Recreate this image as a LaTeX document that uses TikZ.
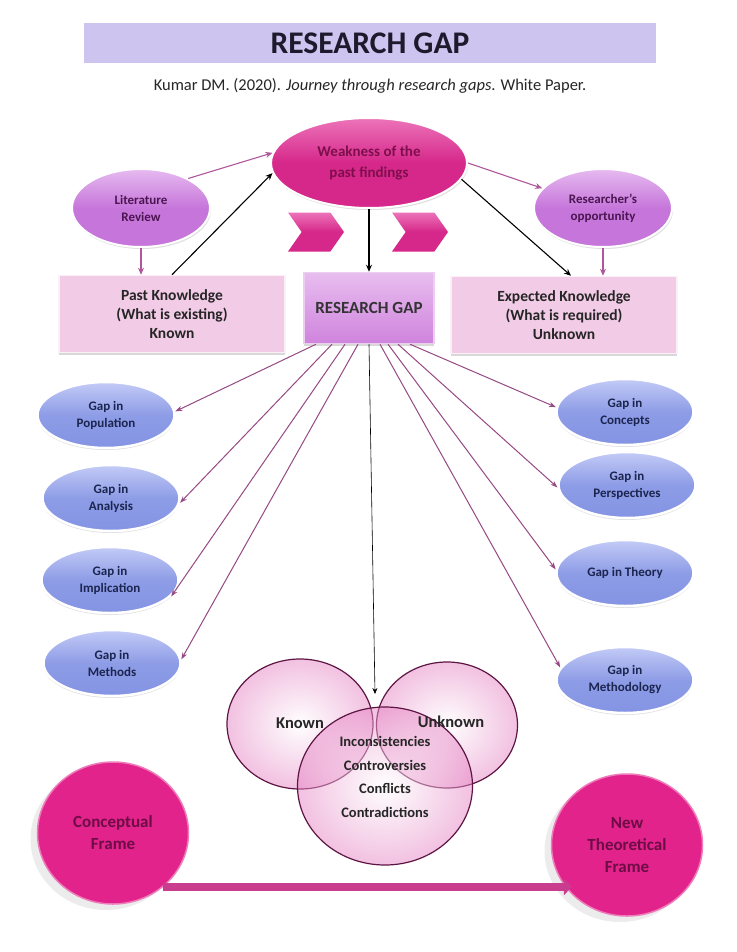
\documentclass[tikz,border=0pt]{standalone}
\usepackage{fontspec}
\setmainfont{Carlito}
\usetikzlibrary{arrows.meta,shapes.geometric,shapes.symbols,shadows}
\definecolor{barlilac}{HTML}{CDC5EF}
\definecolor{titleink}{HTML}{1E1A2E}
\definecolor{weakpink}{HTML}{D6278A}
\definecolor{weaklight}{HTML}{EC74B9}
\definecolor{weakink}{HTML}{7E0F4C}
\definecolor{orchid}{HTML}{C676DA}
\definecolor{orchidlight}{HTML}{E6BAF0}
\definecolor{orchidink}{HTML}{4B1552}
\definecolor{boxpink}{HTML}{F2CBE6}
\definecolor{gapbox}{HTML}{CF84DD}
\definecolor{gapboxlight}{HTML}{E8BDEF}
\definecolor{bluegap}{HTML}{8494E3}
\definecolor{bluelight}{HTML}{C3CBF6}
\definecolor{blueink}{HTML}{1B2550}
\definecolor{linkpink}{HTML}{B0569A}
\definecolor{vennpink}{HTML}{E684C4}
\definecolor{vennrim}{HTML}{5E1543}
\definecolor{framepink}{HTML}{E2238C}
\definecolor{frameink}{HTML}{6E0C45}
\definecolor{barpink}{HTML}{C93C8E}

\tikzset{
		titlebar/.style={fill=barlilac, minimum width=572pt, minimum height=40pt, text=titleink, font=\bfseries\fontsize{31.5}{33}\selectfont},
		citation/.style={text=black!85, font=\fontsize{16.5}{18}\selectfont},
		weakoval/.style={ellipse, top color=weaklight, bottom color=weakpink, middle color=weakpink, draw=white, line width=2pt, minimum width=196pt, minimum height=90pt, align=center, text=weakink, font=\bfseries\fontsize{15}{21}\selectfont, drop shadow={opacity=.25, shadow xshift=1pt, shadow yshift=-2pt}},
		sideoval/.style={ellipse, top color=orchidlight, bottom color=orchid, middle color=orchid, draw=white, line width=2pt, minimum width=138pt, minimum height=78pt, align=center, text=orchidink, font=\bfseries\fontsize{13}{17}\selectfont, drop shadow={opacity=.25, shadow xshift=1pt, shadow yshift=-2pt}},
		chevron/.style={signal, signal from=west, signal to=east, signal pointer angle=110, minimum width=56pt, minimum height=39pt, top color=weaklight, bottom color=weakpink, middle color=weakpink},
		knowbox/.style={rectangle, fill=boxpink, draw=white!70!boxpink, line width=1.5pt, minimum width=226pt, minimum height=77pt, align=center, text=black!85, font=\bfseries\fontsize{15.5}{19}\selectfont, drop shadow={opacity=.3, shadow xshift=0pt, shadow yshift=-2pt}},
		gapbox/.style={rectangle, top color=gapboxlight, bottom color=gapbox, draw=white!60!gapbox, line width=1.5pt, minimum width=130pt, minimum height=71pt, text=black!80, font=\bfseries\fontsize{17}{19}\selectfont, drop shadow={opacity=.3, shadow xshift=0pt, shadow yshift=-2pt}},
		blueoval/.style={ellipse, top color=bluelight, bottom color=bluegap, middle color=bluegap!85!bluelight, draw=white, line width=2.5pt, minimum width=137pt, minimum height=66pt, align=center, text=blueink, font=\bfseries\fontsize{13}{17}\selectfont, drop shadow={opacity=.25, shadow xshift=0pt, shadow yshift=-2pt}},
		venn/.style={ellipse, inner color=white, outer color=vennpink, fill opacity=.5, draw=vennrim, line width=1.2pt},
		vennlabel/.style={text=black!85, font=\bfseries\fontsize{16.5}{18}\selectfont},
		issues/.style={align=center, text=black!85, font=\bfseries\fontsize{14.5}{23.5}\selectfont},
		frameoval/.style={ellipse, fill=framepink, draw=framepink!60!white, line width=1.5pt, minimum width=151pt, minimum height=142pt, align=center, text=frameink, font=\bfseries\fontsize{17}{22}\selectfont, drop shadow={opacity=.15, shadow xshift=-7pt, shadow yshift=-6pt}},
		pinklink/.style={draw=linkpink, line width=1.1pt, -{Stealth[length=7pt,width=6pt]}},
		blacklink/.style={draw=black, line width=1.1pt, -{Stealth[length=7pt,width=6pt]}},
		fanlink/.style={draw=linkpink!85!black, line width=1pt, -{Stealth[length=7pt,width=5pt]}},
		bigarrow/.style={draw=barpink, line width=8pt, -{Triangle[length=8pt,width=16pt]}}
	}

\begin{document}
\begin{tikzpicture}[x=1pt, y=-1pt]
	\useasboundingbox[fill=white] (0,0) rectangle (736,952);

	\node[titlebar] (title) at (370,43) {RESEARCH GAP};
	\node[citation] (cite) at (370,86) {Kumar DM. (2020). \textit{Journey through research gaps}. White Paper.};

	\node[weakoval] (weak) at (369,163) {Weakness of the\\past findings};
	\node[sideoval] (lit) at (141,208) {Literature\\Review};
	\node[sideoval] (opp) at (603,208) {Researcher's\\opportunity};
	\node[chevron] (chevl) at (316,232) {};
	\node[chevron] (chevr) at (420,232) {};

	\node[knowbox] (past) at (172,314) {Past Knowledge\\(What is existing)\\Known};
	\node[gapbox] (rg) at (369,308) {RESEARCH GAP};
	\node[knowbox] (exp) at (564,315) {Expected Knowledge\\(What is required)\\Unknown};

	\draw[pinklink] (lit.32) -- (weak.174);
	\draw[pinklink] (lit.south) -- (lit.south |- past.north);
	\draw[blacklink] (past.north) -- (weak.186);
	\draw[blacklink] (weak.south) -- (rg.north);
	\draw[pinklink] (weak.east) -- (opp.162);
	\draw[blacklink] (weak.-10) -- ([xshift=7pt]exp.north);
	\draw[pinklink] (opp.south) -- (opp.south |- exp.north);

	\node[blueoval] (pop) at (106,415) {Gap in\\Population};
	\node[blueoval] (ana) at (111,498) {Gap in\\Analysis};
	\node[blueoval] (imp) at (110,580) {Gap in\\Implication};
	\node[blueoval] (met) at (112,663) {Gap in\\Methods};
	\node[blueoval] (con) at (625,412) {Gap in\\Concepts};
	\node[blueoval] (per) at (627,485) {Gap in\\Perspectives};
	\node[blueoval] (the) at (625,573) {Gap in Theory};
	\node[blueoval] (mth) at (625,680) {Gap in\\Methodology};

	\draw[fanlink] ([xshift=-53pt]rg.south) -- (pop.3);
	\draw[fanlink] ([xshift=-37pt]rg.south) -- (ana.-4);
	\draw[fanlink] ([xshift=-24pt]rg.south) -- (imp.-15);
	\draw[fanlink] ([xshift=-11pt]rg.south) -- (met.3);
	\draw[fanlink] ([xshift=41pt]rg.south) -- (con.176);
	\draw[fanlink] ([xshift=29pt]rg.south) -- (per.182);
	\draw[fanlink] ([xshift=19pt]rg.south) -- (the.177);
	\draw[fanlink] ([xshift=11pt]rg.south) -- (mth.169);

	\node[venn, minimum width=146pt, minimum height=130pt] (known) at (300,724) {};
	\node[venn, minimum width=141pt, minimum height=126pt] (unknown) at (447,725) {};
	\node[venn, minimum width=175pt, minimum height=158pt] (mixed) at (385,786) {};
	\node[vennlabel] (knownlbl) at (300,723) {Known};
	\node[vennlabel] (unknownlbl) at (451,722) {Unknown};
	\node[issues] (list) at (385,777) {Inconsistencies\\Controversies\\Conflicts\\Contradictions};

	\coordinate (venntop) at (375,694);
	\draw[draw=black, line width=.6pt, -{Stealth[length=6pt,width=5pt]}] (rg.south) -- (venntop);

	\node[frameoval] (cf) at (113,833) {Conceptual\\Frame};
	\node[frameoval] (nf) at (627,845) {New\\Theoretical\\Frame};

	\draw[bigarrow] (cf.-47) -- (cf.-47 -| nf.222);
\end{tikzpicture}
\end{document}
